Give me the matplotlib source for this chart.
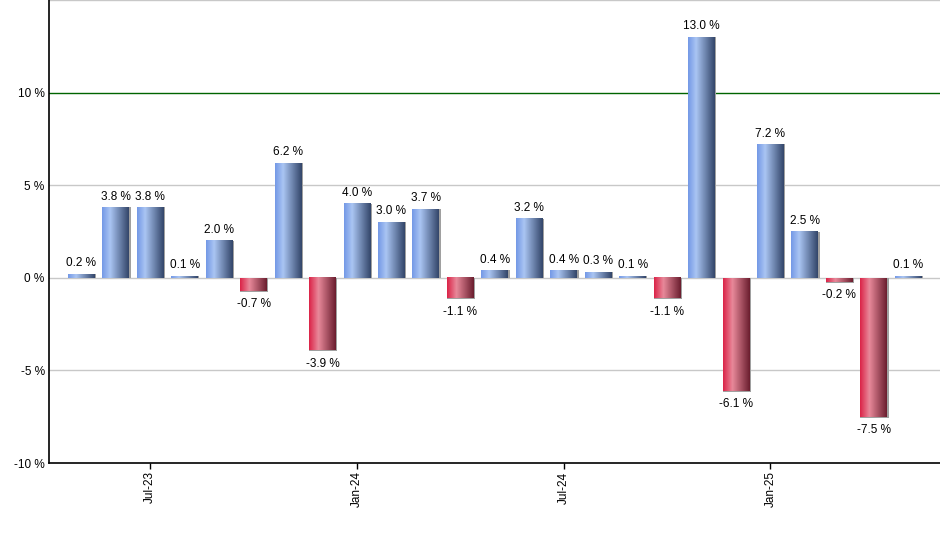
import numpy as np
import matplotlib
matplotlib.use("Agg")
import matplotlib.pyplot as plt
from matplotlib.colors import LinearSegmentedColormap

plt.rcParams["font.family"] = ["Liberation Sans", "DejaVu Sans"]

# monthly returns, May-23 .. May-25
months = ["May-23", "Jun-23", "Jul-23", "Aug-23", "Sep-23", "Oct-23", "Nov-23", "Dec-23",
          "Jan-24", "Feb-24", "Mar-24", "Apr-24", "May-24", "Jun-24", "Jul-24", "Aug-24",
          "Sep-24", "Oct-24", "Nov-24", "Dec-24", "Jan-25", "Feb-25", "Mar-25", "Apr-25", "May-25"]
returns = [0.2, 3.8, 3.8, 0.1, 2.0, -0.7, 6.2, -3.9, 4.0, 3.0, 3.7, -1.1, 0.4, 3.2,
           0.4, 0.3, 0.1, -1.1, 13.0, -6.1, 7.2, 2.5, -0.2, -7.5, 0.1]
tick_months = ["Jul-23", "Jan-24", "Jul-24", "Jan-25"]
y_ticks = [-10, -5, 0, 5, 10]

blue = LinearSegmentedColormap.from_list(
    "blue", [(0, "#7499e6"), (0.3, "#aac5f3"), (1, "#33466a")])
red = LinearSegmentedColormap.from_list(
    "red", [(0, "#db2448"), (0.35, "#e8899a"), (1, "#6b1e2f")])
grad = np.linspace(0, 1, 64).reshape(1, -1)

fig = plt.figure(figsize=(9.4, 5.5), dpi=100)
ax = fig.add_axes([0.052, 0.158, 0.948, 0.842])

x = np.arange(len(returns))
w = 0.78
for xi, v in zip(x, returns):
    cmap = blue if v >= 0 else red
    lo, hi = min(0, v), max(0, v)
    # thin shadow on the right edge
    ax.fill_between([xi - w / 2, xi + w / 2 + 0.04], lo - (0.06 if v < 0 else 0), hi,
                    color="#a0a0a0", zorder=2, lw=0)
    ax.imshow(grad, cmap=cmap, aspect="auto", extent=(xi - w / 2, xi + w / 2, lo, hi),
              zorder=3, interpolation="bilinear")
    lab = f"{v:.1f} %"
    if v >= 0:
        ax.annotate(lab, (xi, hi), xytext=(0, 3.5), textcoords="offset points",
                    ha="center", va="bottom", fontsize=8.5)
    else:
        ax.annotate(lab, (xi, lo), xytext=(0, -5.5), textcoords="offset points",
                    ha="center", va="top", fontsize=8.5)

for g in [-5, 0, 5, 15]:
    ax.axhline(g, color="#c8c8c8", lw=1, zorder=1)
ax.axhline(10, color="#006400", lw=1, zorder=1)

ax.set_xlim(-0.94, 24.92)
ax.set_ylim(-10, 15)
ax.set_yticks(y_ticks)
ax.set_yticklabels([f"{t} %" for t in y_ticks], fontsize=8.5)
ax.tick_params(axis="y", length=0, pad=3)
ax.set_xticks([months.index(m) for m in tick_months])
ax.set_xticklabels(tick_months, rotation=90, fontsize=8.5)
ax.tick_params(axis="x", length=4, width=1, pad=2)

for s in ["top", "right"]:
    ax.spines[s].set_visible(False)
for s in ["left", "bottom"]:
    ax.spines[s].set_linewidth(1.2)

fig.savefig("out.png", dpi=100)
